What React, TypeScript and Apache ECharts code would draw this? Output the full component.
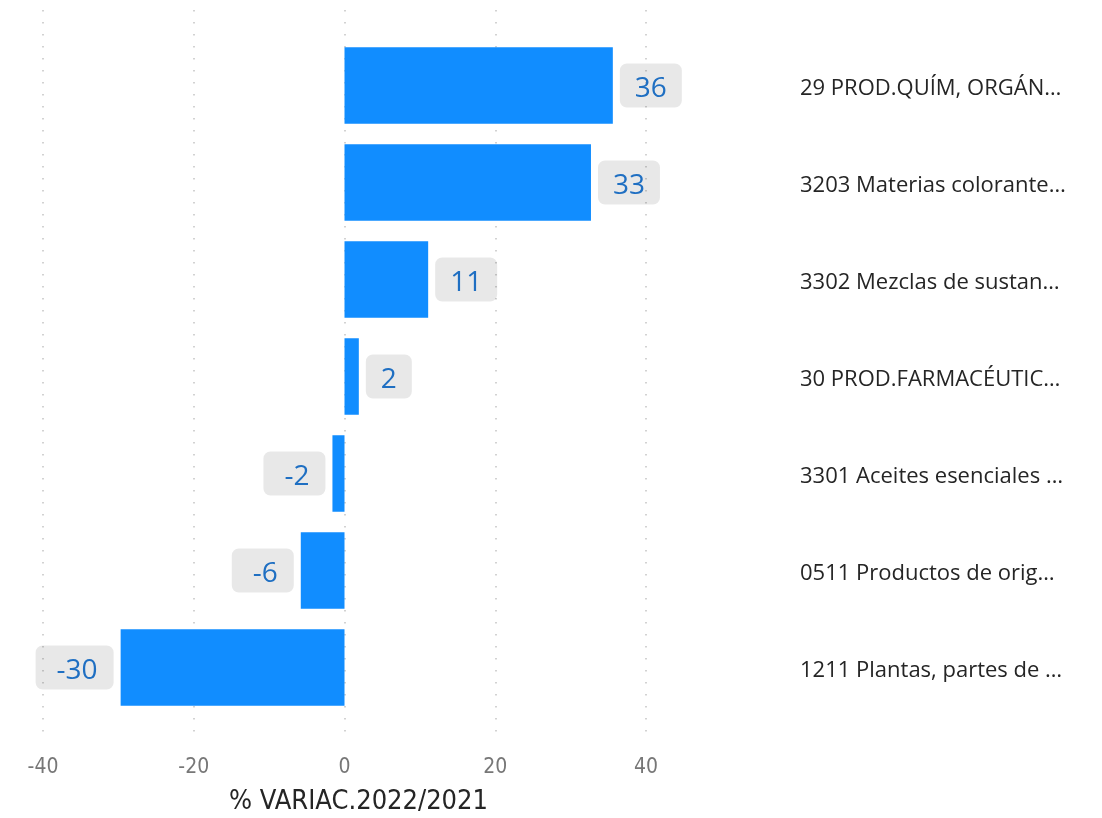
import React, { useEffect, useRef } from "react";
import * as echarts from "echarts";

const categories = [
  "29 PROD.QUÍM, ORGÁN…",
  "3203 Materias colorante…",
  "3302 Mezclas de sustan…",
  "30 PROD.FARMACÉUTIC…",
  "3301 Aceites esenciales …",
  "0511 Productos de orig…",
  "1211 Plantas, partes de …",
];
const variation = [35.6, 32.7, 11.1, 1.9, -1.6, -5.8, -29.7];
const axisName = "% VARIAC.2022/2021";
const xMin = -40;
const xMax = 40;
const xInterval = 20;

export default function App() {
  const ref = useRef<HTMLDivElement>(null);
  useEffect(() => {
    if (!ref.current) return;
    const chart = echarts.init(ref.current, null, { renderer: "svg" });
    const labelBase = {
      show: true,
      formatter: (p: any) => String(Math.round(p.value)),
      color: "#1f6fc2",
      fontSize: 28,
      lineHeight: 28,
      fontFamily: "Open Sans",
      backgroundColor: "rgba(0,0,0,0.09)",
      borderRadius: 7,
      distance: 7,
    };
    chart.setOption({
      animation: false,
      grid: [
        { left: 43, top: 37, width: 603, height: 679 },
        { left: 43, top: 10, width: 603, height: 735 },
      ],
      xAxis: [
        { type: "value", gridIndex: 0, min: xMin, max: xMax, interval: xInterval, show: false },
        {
          type: "value",
          gridIndex: 1,
          min: xMin,
          max: xMax,
          interval: xInterval,
          name: axisName,
          nameLocation: "middle",
          nameGap: 46,
          nameTextStyle: { fontFamily: "DejaVu Sans Condensed", fontSize: 27, color: "#252525", padding: [0, 0, 0, 28] },
          axisLine: { show: false },
          axisTick: { show: false },
          axisLabel: { color: "#777777", fontSize: 21, fontFamily: "DejaVu Sans Condensed", margin: 15 },
          splitLine: { show: true, lineStyle: { color: "#c4c4c4", width: 1.5, type: [1.5, 10.5] } },
        },
      ],
      yAxis: [
        {
          type: "category",
          gridIndex: 0,
          data: categories,
          inverse: true,
          position: "right",
          axisLine: { show: false },
          axisTick: { show: false },
          splitLine: { show: false },
          axisLabel: { align: "left", margin: 154, color: "#252525", fontSize: 22, fontFamily: "Open Sans" },
        },
        { type: "value", gridIndex: 1, show: false, min: 0, max: 1 },
      ],
      series: [
        {
          type: "bar",
          xAxisIndex: 0,
          yAxisIndex: 0,
          barCategoryGap: "21%",
          itemStyle: { color: "#118DFF" },
          data: variation.map((v) => ({
            value: v,
            label: {
              ...labelBase,
              position: v >= 0 ? "right" : "left",
              padding: v >= 0 ? [8, 15, 8, 15] : [8, 16, 8, 21],
            },
          })),
        },
      ],
    });
    return () => chart.dispose();
  }, []);
  return <div ref={ref} style={{ position: "fixed", left: 0, top: 0, width: 1102, height: 818 }} />;
}
